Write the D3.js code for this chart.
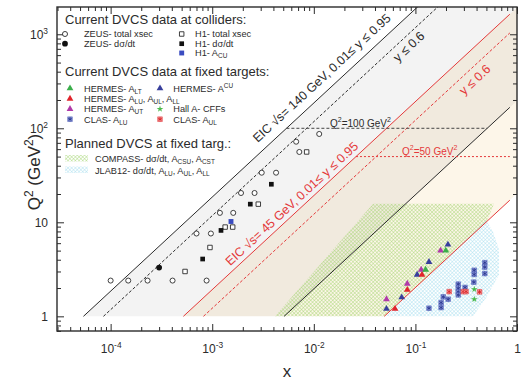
<!DOCTYPE html>
<html>
<head>
<meta charset="utf-8">
<script src="https://cdn.jsdelivr.net/npm/d3@7"></script>
<style>
  body { margin: 0; background: #fff; }
  svg { font-family: "Liberation Sans", Arial, sans-serif; }
</style>
</head>
<body>
<svg id="chart" width="525" height="382"></svg>
<script>
// ---- data: [x, Q2] ----
const zeusTotal = [[1.0e-4, 2.4], [1.49e-4, 2.4], [2.31e-4, 2.4], [4.07e-4, 2.4], [8.8e-4, 2.4],
  [7.0e-4, 7.6], [9.7e-4, 7.6], [1.19e-3, 12.6], [1.61e-3, 12.6], [1.92e-3, 20.5], [2.61e-3, 20.5],
  [3.07e-3, 33.7], [4.25e-3, 33.7], [6.7e-3, 72], [1.13e-2, 87], [7.2e-3, 56]];
const zeusDsdt = [[3.0e-4, 3.3]];
const h1Total = [[5.4e-4, 3.0], [9.5e-4, 5.4], [1.34e-3, 8.9], [1.59e-3, 8.9], [2.84e-3, 15.6], [8.5e-3, 56]];
const h1Dsdt = [[8.05e-4, 4.07], [1.22e-3, 8.2], [2.37e-3, 15.6], [3.82e-3, 25.4]];
const h1Acu = [[1.53e-3, 10.2]];

const hermesALT = [[0.199, 5.0], [0.126, 3.13]];
const hermesACU = [[0.209, 5.8], [0.136, 3.78], [0.104, 2.77], [0.0733, 1.59], [0.0519, 1.20]];
const hermesALU = [[0.116, 2.77], [0.0832, 1.91], [0.063, 1.20]];
const hermesAUT = [[0.177, 5.0], [0.114, 3.13], [0.0832, 2.22], [0.0519, 1.52]];
const hallA = [[0.38, 1.94], [0.38, 1.52]];
const clasALU = [[0.482, 3.72], [0.482, 3.34], [0.482, 2.85], [0.379, 3.09], [0.379, 2.79], [0.376, 2.31],
  [0.308, 2.03], [0.264, 2.20], [0.264, 1.99], [0.264, 1.82], [0.264, 1.69], [0.210, 1.52],
  [0.188, 1.61], [0.179, 1.40], [0.179, 1.24], [0.136, 1.22]];
const clasAUL = [[0.215, 1.83], [0.296, 1.83], [0.315, 1.83], [0.428, 1.82]];

// EIC kinematic limits (two end points each)
const eic140 = [[5.4e-5, 1], [0.12, 2234]];
const eic140y06 = [[8.5e-5, 1], [0.19, 2234]];
const eic140low = [[5.1e-3, 1], [0.85, 167]];
const eic45 = [[5.2e-4, 1], [0.85, 1635]];
const eic45y06 = [[8.2e-4, 1], [0.85, 1033]];
const eic45low = [[0.0494, 1], [0.85, 17.2]];
const q2cut100 = [[5.37e-3, 100], [0.51, 100]];
const q2cut50 = [[0.026, 50], [0.85, 50]];

// shaded regions
const eic140Region = [[5.4e-5, 1], [0.12, 2234], [1, 2234], [1, 196], [5.1e-3, 1]];
const eic45Region = [[5.2e-4, 1], [1, 1924], [1, 20.25], [0.0494, 1]];
const compassRegion = [[0.00415, 1], [0.0383, 15.8], [0.594, 15.8], [0.5, 10.1], [0.0494, 1]];
const jlabRegion = [[0.0514, 1], [0.495, 10.5], [0.58, 7.97], [0.665, 5.12], [0.665, 2.77], [0.495, 1.57], [0.369, 1]];

const xTicks = [1e-4, 1e-3, 1e-2, 1e-1, 1];
const xTickLabels = [["10", "-4"], ["10", "-3"], ["10", "-2"], ["10", "-1"], ["1", ""]];
const yTicks = [1, 10, 100, 1000];
const yTickLabels = [["1", ""], ["10", ""], ["10", "2"], ["10", "3"]];

// ---- layout ----
const svg = d3.select("#chart");
const W = 525, H = 382;
const margin = { top: 7, right: 8, bottom: 51, left: 57 };
const RED = "#e4393a", DARK = "#2b2b2b";

const x = d3.scaleLog().domain([Math.pow(10, -4.528), 1]).range([margin.left, W - margin.right]);
const y = d3.scaleLog().domain([Math.pow(10, -0.156), Math.pow(10, 3.29)]).range([H - margin.bottom, margin.top]);

// text with sub / superscripts: parts = [[text, mode]]
function rich(sel, parts, size) {
  let shift = 0;
  parts.forEach(([t, m]) => {
    if (!t) return;
    const target = m === "sub" ? 0.22 : m === "sup" ? -0.42 : 0;
    sel.append("tspan")
      .attr("dy", ((target - shift) * size).toFixed(2))
      .attr("font-size", m ? size * 0.7 : size)
      .text(t);
    shift = target;
  });
}

const defs = svg.append("defs");
defs.append("clipPath").attr("id", "plotclip").append("rect")
  .attr("x", margin.left).attr("y", margin.top)
  .attr("width", W - margin.left - margin.right).attr("height", H - margin.top - margin.bottom);

function hatch(id, color) {
  const p = defs.append("pattern").attr("id", id)
    .attr("patternUnits", "userSpaceOnUse").attr("width", 2.6).attr("height", 2.6)
    .attr("patternTransform", "rotate(45)");
  p.append("line").attr("x1", 0).attr("y1", 0).attr("x2", 0).attr("y2", 2.6)
    .attr("stroke", color).attr("stroke-width", 0.8);
  p.append("line").attr("x1", 0).attr("y1", 0).attr("x2", 2.6).attr("y2", 0)
    .attr("stroke", color).attr("stroke-width", 0.8);
}
hatch("hatchG", "#9fd46c");
hatch("hatchC", "#a3dcee");

const line = d3.line().x(d => x(d[0])).y(d => y(d[1]));
const plot = svg.append("g").attr("clip-path", "url(#plotclip)");

// regions
plot.append("path").datum(eic140Region).attr("d", line).attr("fill", "#f3f3f3");
plot.append("path").datum(eic45Region).attr("d", line).attr("fill", "#fdf6e9")
  .style("mix-blend-mode", "multiply");
plot.append("path").datum(compassRegion).attr("d", line).attr("fill", "url(#hatchG)");
plot.append("path").datum(jlabRegion).attr("d", line).attr("fill", "url(#hatchC)");

// kinematic lines
const lines = [
  [eic140, DARK, null], [eic140y06, DARK, "3,2"], [eic140low, DARK, null],
  [eic45, RED, null], [eic45y06, RED, "3,2"], [eic45low, RED, null],
  [q2cut100, "#444", "3,2"], [q2cut50, RED, "2,2"]
];
lines.forEach(([pts, c, dash]) => {
  plot.append("path").datum(pts).attr("d", line).attr("fill", "none")
    .attr("stroke", c).attr("stroke-width", 1)
    .attr("stroke-dasharray", dash);
});

// labels along the lines
function lineLabel(pts, xAt, perp, parts, color, size) {
  const a = [x(pts[0][0]), y(pts[0][1])], b = [x(pts[1][0]), y(pts[1][1])];
  const ang = Math.atan2(b[1] - a[1], b[0] - a[0]);
  const px = x(xAt), t = (px - a[0]) / (b[0] - a[0]), py = a[1] + t * (b[1] - a[1]);
  const cx = px + perp * Math.sin(ang), cy = py - perp * Math.cos(ang);
  const txt = svg.append("text")
    .attr("transform", `translate(${cx},${cy}) rotate(${ang * 180 / Math.PI})`)
    .attr("text-anchor", "middle").attr("dominant-baseline", "central")
    .attr("fill", color).attr("font-size", size);
  rich(txt, parts, size);
}
lineLabel(eic140, 0.0146, 12.7, [["EIC \u221As= 140 GeV, 0.01\u2264 y \u2264 0.95"]], DARK, 12.5);
lineLabel(eic140y06, 0.0745, -9.7, [["y \u2264 0.6"]], DARK, 12.5);
lineLabel(eic45, 0.00698, 8.8, [["EIC \u221As= 45 GeV, 0.01\u2264 y \u2264 0.95"]], RED, 12.5);
lineLabel(eic45y06, 0.327, -10.8, [["y \u2264 0.6"]], RED, 12.5);

const t100 = svg.append("text").attr("x", 330).attr("y", 126.5).attr("fill", DARK).attr("font-size", 10);
rich(t100, [["Q"], ["2", "sup"], ["=100 GeV"], ["2", "sup"]], 10);
const t50 = svg.append("text").attr("x", 402).attr("y", 154.5).attr("fill", RED).attr("font-size", 10);
rich(t50, [["Q"], ["2", "sup"], ["=50 GeV"], ["2", "sup"]], 10);

// ---- markers ----
const sym = (type, size) => d3.symbol().type(type).size(size)();
const markers = {
  zeusTotal: g => g.append("path").attr("d", sym(d3.symbolCircle, 20)).attr("fill", "#fff").attr("stroke", DARK).attr("stroke-width", 0.9),
  zeusDsdt: g => g.append("path").attr("d", sym(d3.symbolCircle, 26)).attr("fill", "#111"),
  h1Total: g => g.append("path").attr("d", sym(d3.symbolSquare, 20)).attr("fill", "#fff").attr("stroke", DARK).attr("stroke-width", 0.9),
  h1Dsdt: g => g.append("path").attr("d", sym(d3.symbolSquare, 22)).attr("fill", "#111"),
  h1Acu: g => g.append("path").attr("d", sym(d3.symbolSquare, 24)).attr("fill", "#3a4cc0"),
  hermesALT: g => g.append("path").attr("d", sym(d3.symbolTriangle, 20)).attr("fill", "#3aae4a"),
  hermesACU: g => g.append("path").attr("d", sym(d3.symbolTriangle, 20)).attr("fill", "#383f9c"),
  hermesALU: g => g.append("path").attr("d", sym(d3.symbolTriangle, 20)).attr("fill", "#e0232b"),
  hermesAUT: g => g.append("path").attr("d", sym(d3.symbolTriangle, 20)).attr("fill", "#b03aa8"),
  hallA: g => g.append("path").attr("d", sym(d3.symbolStar, 14)).attr("fill", "#4cba4c"),
  clasALU: g => {
    g.append("path").attr("d", sym(d3.symbolSquare, 22)).attr("fill", "#95a3e0").attr("stroke", "#4453b0").attr("stroke-width", 0.5);
    g.append("path").attr("d", sym(d3.symbolAsterisk, 14)).attr("fill", "none").attr("stroke", "#26328c").attr("stroke-width", 0.8);
  },
  clasAUL: g => {
    g.append("path").attr("d", sym(d3.symbolSquare, 22)).attr("fill", "#f5a5a5").attr("stroke", "#e0282c").attr("stroke-width", 0.5);
    g.append("path").attr("d", sym(d3.symbolAsterisk, 14)).attr("fill", "none").attr("stroke", "#d81e22").attr("stroke-width", 0.8);
  }
};

const series = [
  ["zeusTotal", zeusTotal], ["zeusDsdt", zeusDsdt], ["h1Total", h1Total], ["h1Dsdt", h1Dsdt], ["h1Acu", h1Acu],
  ["clasALU", clasALU], ["clasAUL", clasAUL], ["hallA", hallA],
  ["hermesACU", hermesACU], ["hermesALU", hermesALU], ["hermesAUT", hermesAUT], ["hermesALT", hermesALT]
];
series.forEach(([key, data]) => {
  plot.append("g").selectAll("g").data(data).join("g")
    .attr("transform", d => `translate(${x(d[0])},${y(d[1])})`)
    .each(function () { markers[key](d3.select(this)); });
});

// ---- frame and axes ----
const x0 = margin.left, x1 = W - margin.right, y0 = margin.top, y1 = H - margin.bottom;
const xMinor = [], yMinor = [];
for (let e = -5; e <= 0; e++) for (let m = 2; m <= 9; m++) {
  const v = m * Math.pow(10, e);
  if (v > x.domain()[0] && v < 1) xMinor.push(v);
}
for (let e = -1; e <= 3; e++) for (let m = 2; m <= 9; m++) {
  const v = m * Math.pow(10, e);
  if (v > y.domain()[0] && v < y.domain()[1]) yMinor.push(v);
}

function axisPair(axisFn, scale, pos, major, minor) {
  const gMin = svg.append("g").attr("transform", pos)
    .call(axisFn(scale).tickValues(minor).tickSize(-4).tickFormat(""));
  const gMaj = svg.append("g").attr("transform", pos)
    .call(axisFn(scale).tickValues(major).tickSize(-7).tickFormat(""));
  [gMin, gMaj].forEach(g => {
    g.select(".domain").remove();
    g.selectAll(".tick line").attr("stroke", DARK).attr("stroke-width", 1);
    g.selectAll(".tick text").remove();
  });
  return gMaj;
}
const gx = axisPair(d3.axisBottom, x, `translate(0,${y1})`, xTicks, xMinor);
axisPair(d3.axisTop, x, `translate(0,${y0})`, xTicks, xMinor);
const gy = axisPair(d3.axisLeft, y, `translate(${x0},0)`, yTicks, yMinor);
axisPair(d3.axisRight, y, `translate(${x1},0)`, yTicks, yMinor);

gx.selectAll(".tick").append("text")
  .attr("y", 22).attr("text-anchor", "middle").attr("fill", DARK).attr("font-size", 12)
  .each(function (d, i) { rich(d3.select(this), [[xTickLabels[i][0]], [xTickLabels[i][1], "sup"]], 12); });
gy.selectAll(".tick").append("text")
  .attr("x", -9).attr("y", 4.5).attr("text-anchor", "end").attr("fill", DARK).attr("font-size", 12)
  .each(function (d, i) { rich(d3.select(this), [[yTickLabels[i][0]], [yTickLabels[i][1], "sup"]], 12); });

svg.append("rect").attr("x", x0).attr("y", y0).attr("width", x1 - x0).attr("height", y1 - y0)
  .attr("fill", "none").attr("stroke", DARK).attr("stroke-width", 1.4);

svg.append("text").attr("x", (x0 + x1) / 2).attr("y", 377).attr("text-anchor", "middle")
  .attr("font-size", 17).attr("fill", DARK).text("x");
const yt = svg.append("text").attr("transform", "translate(40,172) rotate(-90)")
  .attr("text-anchor", "middle").attr("font-size", 17).attr("fill", DARK);
rich(yt, [["Q"], ["2", "sup"], [" (GeV"], ["2", "sup"], [")"]], 17);

// ---- legend ----
const leg = svg.append("g");
const LF = 9.2;
function heading(txt, yy) {
  leg.append("text").attr("x", 65).attr("y", yy).attr("font-size", 13).attr("fill", DARK).text(txt);
}
function entry(key, mx, tx, yy, parts) {
  markers[key](leg.append("g").attr("transform", `translate(${mx},${yy})`));
  const t = leg.append("text").attr("x", tx).attr("y", yy + 3.3).attr("font-size", LF).attr("fill", DARK);
  rich(t, parts, LF);
}
heading("Current DVCS data at colliders:", 23.5);
entry("zeusTotal", 65, 84, 34, [["ZEUS- total xsec"]]);
entry("zeusDsdt", 65, 84, 43.7, [["ZEUS- d\u03C3/dt"]]);
entry("h1Total", 181.7, 195, 34, [["H1- total xsec"]]);
entry("h1Dsdt", 181.7, 195, 43.7, [["H1- d\u03C3/dt"]]);
entry("h1Acu", 181.7, 195, 53, [["H1- A"], ["CU", "sub"]]);

heading("Current DVCS data at fixed targets:", 76);
entry("hermesALT", 70, 84, 88.3, [["HERMES- A"], ["LT", "sub"]]);
entry("hermesACU", 160, 173.3, 88.3, [["HERMES- A"], ["CU", "sup"]]);
entry("hermesALU", 70, 84, 98.7, [["HERMES- A"], ["LU", "sub"], [", A"], ["UL", "sub"], [", A"], ["LL", "sub"]]);
entry("hermesAUT", 70, 84, 109, [["HERMES- A"], ["UT", "sub"]]);
entry("hallA", 160, 173.3, 109, [["Hall A- CFFs"]]);
entry("clasALU", 70, 84, 119.2, [["CLAS- A"], ["LU", "sub"]]);
entry("clasAUL", 160, 173.3, 119.2, [["CLAS- A"], ["UL", "sub"]]);

heading("Planned DVCS at fixed targ.:", 147.7);
leg.append("rect").attr("x", 65).attr("y", 155).attr("width", 23).attr("height", 6.5).attr("fill", "url(#hatchG)");
leg.append("rect").attr("x", 65).attr("y", 166.5).attr("width", 23).attr("height", 6.5).attr("fill", "url(#hatchC)");
const tc = leg.append("text").attr("x", 95).attr("y", 162).attr("font-size", LF).attr("fill", DARK);
rich(tc, [["COMPASS- d\u03C3/dt, A"], ["CSU", "sub"], [", A"], ["CST", "sub"]], LF);
const tj = leg.append("text").attr("x", 95).attr("y", 173.5).attr("font-size", LF).attr("fill", DARK);
rich(tj, [["JLAB12- d\u03C3/dt, A"], ["LU", "sub"], [", A"], ["UL", "sub"], [", A"], ["LL", "sub"]], LF);
</script>
</body>
</html>
